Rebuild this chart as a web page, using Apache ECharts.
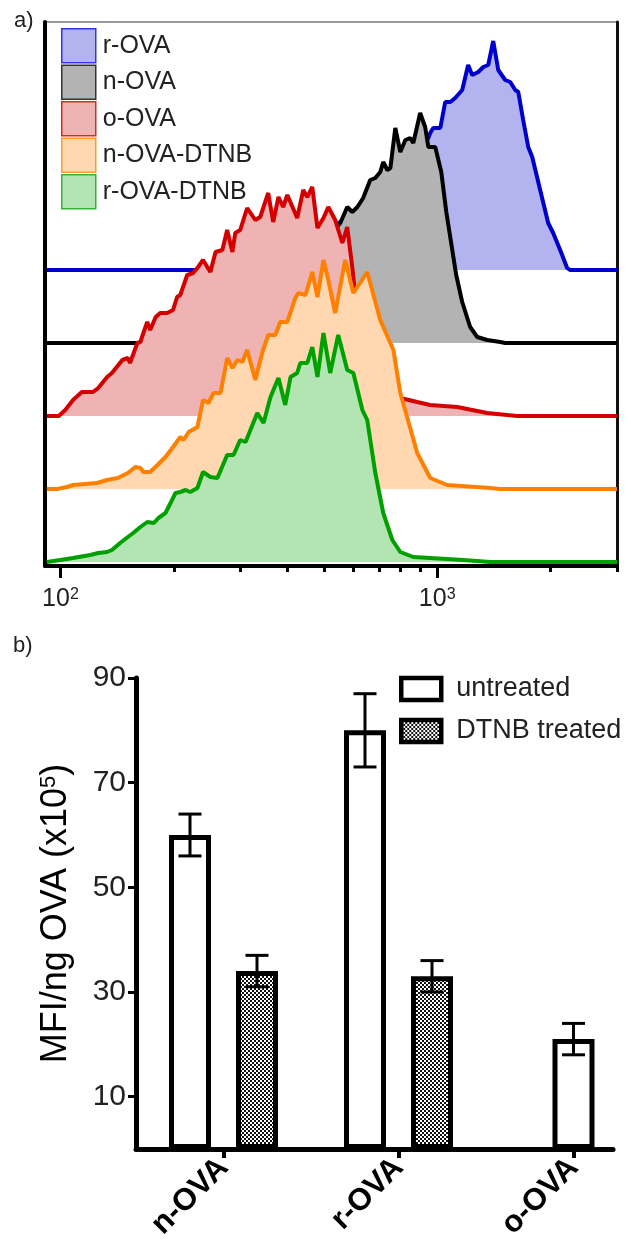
<!DOCTYPE html>
<html>
<head>
<meta charset="utf-8">
<script src="https://cdn.jsdelivr.net/npm/echarts@6/dist/echarts.min.js"></script>
<style>
  html, body { margin: 0; padding: 0; background: #fff; }
  #main { width: 631px; height: 1249px; }
</style>
</head>
<body>
<div id="main"></div>
<script>
// ---- panel a: offset fluorescence histograms (x = intensity, y = events above own baseline)
var histNames = ['r-OVA', 'n-OVA', 'o-OVA', 'n-OVA-DTNB', 'r-OVA-DTNB'];
var histOffsets = [296, 223, 150, 77, 4];

var rOVA = [[92,0],[235,0],[339,8],[433,20],[553,48],[706,80],[848,110],[947,132],[958,137],[976,142],
  [1019,142],[1050,168],[1083,168],[1116,172],[1165,180],[1208,205],[1238,195],[1285,198],[1325,203],
  [1366,205],[1408,229],[1452,200],[1515,190],[1562,188],[1611,180],[1641,178],[1691,150],[1744,123],
  [1787,113],[1876,80],[1970,47],[2031,37],[2120,20],[2212,2],[2250,0],[3000,0]];
var nOVA = [[92,0],[235,0],[300,13],[361,43],[433,81],[520,108],[553,120],[577,136],[595,131],[614,136],
  [636,145],[664,163],[685,165],[706,171],[719,181],[737,173],[751,175],[774,215],[798,191],[823,203],
  [848,205],[864,200],[901,230],[929,216],[947,196],[988,196],[1025,171],[1057,131],[1089,100],
  [1123,68],[1165,41],[1223,16],[1277,6],[1357,3],[1470,1],[1515,0],[3000,0]];
var oOVA = [[92,0],[99,0],[103,6],[108,16],[114,24],[122,24],[126,28],[133,39],[137,43],[146,56],
  [151,58],[153,53],[160,73],[163,74],[166,83],[170,94],[173,86],[179,99],[184,103],[192,103],[199,106],
  [204,119],[208,121],[217,141],[225,143],[232,149],[239,156],[250,144],[258,164],[269,166],[277,186],
  [286,164],[291,183],[300,186],[313,208],[329,196],[339,199],[356,223],[367,194],[379,219],[390,209],
  [400,221],[413,209],[425,198],[441,226],[452,219],[466,229],[481,188],[499,198],[514,209],[536,196],
  [560,173],[577,189],[595,149],[606,121],[625,119],[685,76],[751,38],[798,18],[885,14],[958,11],
  [1130,9],[1357,3],[1630,0],[3000,0]];
var nOVADTNB = [[92,0],[98,0],[104,2],[108,4],[125,6],[133,9],[142,11],[151,16],[158,22],[163,21],
  [166,17],[173,17],[181,24],[190,32],[199,42],[208,52],[212,49],[219,57],[231,62],[239,89],[247,86],
  [255,96],[266,96],[277,131],[286,121],[295,129],[304,127],[313,139],[329,109],[343,136],[356,154],
  [372,154],[383,167],[400,167],[420,191],[428,196],[447,194],[466,217],[481,192],[499,229],[514,209],
  [536,176],[570,229],[599,196],[652,217],[706,169],[765,139],[798,96],[885,36],[958,11],[1063,4],
  [1383,1],[1470,0],[3000,0]];
var rOVADTNB = [[92,0],[100,2],[108,4],[120,7],[126,9],[133,10],[137,12],[144,19],[151,25],[156,29],
  [163,35],[170,40],[177,39],[182,44],[190,49],[196,59],[202,69],[208,70],[215,72],[221,70],[231,74],
  [239,90],[250,85],[261,84],[277,107],[288,107],[300,122],[310,120],[333,149],[346,139],[361,165],
  [379,184],[395,157],[408,185],[425,189],[433,199],[452,199],[466,215],[481,185],[499,229],[520,189],
  [546,227],[577,192],[599,189],[633,152],[652,142],[685,89],[719,49],[760,22],[798,10],[864,5],
  [958,4],[1172,2],[1383,0],[3000,0]];
var histData = [rOVA, nOVA, oOVA, nOVADTNB, rOVADTNB];
var majorTicks = [100, 1000];
var minorTicks = [200, 300, 400, 500, 600, 700, 800, 900, 2000, 3000];

// ---- panel b: MFI per ng OVA
var barCats = ['n-OVA', 'r-OVA', 'o-OVA'];
var untreatedMean = [60, 80];
var untreatedSem = [4, 7];
var dtnbMean = [34, 33];
var dtnbSem = [3, 3];
var oOVAMean = [21];
var oOVASem = [3];
var yTicksB = [10, 30, 50, 70, 90];

var lineColors = ['#0000cc', '#000000', '#d40000', '#ff8000', '#00a000'];
var fillColors = ['#b3b3f0', '#b3b3b3', '#f0b3b3', '#ffd8b1', '#b3e5b3'];
var legendBorders = ['#3535e0', '#333333', '#d42a2a', '#ff9933', '#33b333'];
var FONT = '"Liberation Sans", Arial, sans-serif';
var BAR_W = 42, BAR_GAP = 25;
var shift = (BAR_W + BAR_GAP) / 2;

// checkered fill for DTNB bars
var pat = document.createElement('canvas');
pat.width = 4; pat.height = 4;
var pc = pat.getContext('2d');
pc.fillStyle = '#111'; pc.fillRect(0, 0, 4, 4);
pc.fillStyle = '#fff'; pc.fillRect(0, 0, 2, 2); pc.fillRect(2, 2, 2, 2);
var checker = { image: pat, repeat: 'repeat' };

var chart = echarts.init(document.getElementById('main'), null, { renderer: 'canvas' });

// each histogram gets its own z so its fill hides the lines of the ones behind it
var histSeries = histNames.map(function (name, i) {
  return {
    name: name,
    type: 'line',
    xAxisIndex: 0,
    yAxisIndex: 0,
    symbol: 'none',
    z: 2 + i,
    lineStyle: { color: lineColors[i], width: 4 },
    itemStyle: { color: lineColors[i] },
    areaStyle: { color: fillColors[i], opacity: 1, origin: histOffsets[i] },
    data: histData[i].map(function (p) { return [p[0], p[1] + histOffsets[i]]; })
  };
});

function errSeries(xs, means, sems, dx, xAxisIndex) {
  return {
    type: 'custom',
    xAxisIndex: xAxisIndex,
    yAxisIndex: 2,
    z: 10,
    silent: true,
    data: means.map(function (m, k) { return [xs[k], m - sems[k], m + sems[k]]; }),
    renderItem: function (params, api) {
      var lo = api.coord([api.value(0), api.value(1)]);
      var hi = api.coord([api.value(0), api.value(2)]);
      var cx = lo[0] + dx, hw = 11.5;
      var st = { stroke: '#000', lineWidth: 3 };
      return {
        type: 'group',
        children: [
          { type: 'line', shape: { x1: cx, y1: lo[1], x2: cx, y2: hi[1] }, style: st },
          { type: 'line', shape: { x1: cx - hw, y1: lo[1], x2: cx + hw, y2: lo[1] }, style: st },
          { type: 'line', shape: { x1: cx - hw, y1: hi[1], x2: cx + hw, y2: hi[1] }, style: st }
        ]
      };
    }
  };
}

var option = {
  animation: false,
  backgroundColor: '#fff',
  textStyle: { fontFamily: FONT },
  title: [
    { text: 'a)', left: 9, top: 5, textStyle: { fontSize: 22, fontWeight: 'normal', color: '#222', fontFamily: FONT } },
    { text: 'b)', left: 8, top: 630, textStyle: { fontSize: 22, fontWeight: 'normal', color: '#222', fontFamily: FONT } }
  ],
  legend: [
    {
      orient: 'vertical', left: 61, top: 28, padding: 0,
      itemWidth: 34, itemHeight: 34, itemGap: 1, icon: 'rect',
      textStyle: { fontSize: 25, color: '#222', fontFamily: FONT, padding: [0, 0, 0, 2] },
      data: histNames.map(function (n, i) {
        return { name: n, itemStyle: { color: fillColors[i], borderColor: legendBorders[i], borderWidth: 1.5 } };
      })
    },
    {
      orient: 'vertical', left: 399, top: 675, padding: 0,
      itemWidth: 40, itemHeight: 22, itemGap: 14, icon: 'rect',
      textStyle: { fontSize: 27, color: '#222', fontFamily: FONT, padding: [0, 0, 0, 10], lineHeight: 28 },
      data: [
        { name: 'untreated', itemStyle: { color: '#fff', borderColor: '#000', borderWidth: 4.5 } },
        { name: 'DTNB treated', itemStyle: { color: checker, borderColor: '#000', borderWidth: 4.5 } }
      ]
    }
  ],
  grid: [
    { left: 45, right: 14, top: 22, height: 544, show: true, borderColor: '#777', borderWidth: 1.5 },
    { left: 136, right: 18, top: 678, bottom: 100 }
  ],
  xAxis: [
    {
      type: 'log', gridIndex: 0, min: 91, max: 3000, position: 'bottom',
      axisLine: { show: true, onZero: false, lineStyle: { color: '#000', width: 4 } },
      axisTick: { show: true, length: 12, customValues: majorTicks, lineStyle: { color: '#000', width: 3 } },
      axisLabel: {
        customValues: majorTicks, margin: 21, color: '#222', fontSize: 25,
        formatter: function (v) { return '10{s|' + Math.round(Math.log10(v)) + '}'; },
        rich: { s: { fontSize: 16, verticalAlign: 'top', padding: [0, 0, 6, 0], color: '#222' } }
      },
      splitLine: { show: false }, minorTick: { show: false }
    },
    {
      type: 'log', gridIndex: 0, min: 91, max: 3000, position: 'bottom',
      axisLine: { show: false },
      axisTick: { show: true, length: 6, customValues: minorTicks, lineStyle: { color: '#000', width: 3 } },
      axisLabel: { show: false },
      splitLine: { show: false }
    },
    {
      type: 'value', gridIndex: 1, min: -0.5, max: 2.2257,
      axisLine: { show: true, onZero: false, lineStyle: { color: '#000', width: 5 } },
      axisTick: { show: true, length: 9, customValues: [0, 1, 2], lineStyle: { color: '#000', width: 4 } },
      axisLabel: {
        customValues: [0, 1, 2], rotate: 45, margin: 14, color: '#000',
        fontSize: 31, fontWeight: 'bold', fontFamily: FONT,
        formatter: function (v) { return barCats[Math.round(v)]; }
      },
      splitLine: { show: false }
    },
    {
      type: 'value', gridIndex: 1, min: -0.5, max: 2.2257, show: false
    }
  ],
  yAxis: [
    {
      type: 'value', gridIndex: 0, min: 0, max: 544,
      axisLine: { show: true, onZero: false, lineStyle: { color: '#000', width: 4 } },
      axisTick: { show: false }, axisLabel: { show: false }, splitLine: { show: false }
    },
    {
      type: 'value', gridIndex: 0, min: 0, max: 544, position: 'right',
      axisLine: { show: true, onZero: false, lineStyle: { color: '#111', width: 3 } },
      axisTick: { show: false }, axisLabel: { show: false }, splitLine: { show: false }
    },
    {
      type: 'value', gridIndex: 1, min: 0, max: 90,
      name: 'MFI/ng OVA (x10{s|5})', nameLocation: 'middle', nameRotate: 90, nameGap: 62,
      nameTextStyle: { fontSize: 36, color: '#000', fontFamily: FONT, rich: { s: { fontSize: 22, verticalAlign: 'top', color: '#000' } } },
      axisLine: { show: true, onZero: false, lineStyle: { color: '#000', width: 5 } },
      axisTick: { show: true, length: 8, customValues: yTicksB, lineStyle: { color: '#000', width: 3 } },
      axisLabel: { customValues: yTicksB, fontSize: 30, color: '#222', margin: 10, fontFamily: FONT },
      splitLine: { show: false }
    }
  ],
  series: histSeries.concat([
    {
      name: 'untreated', type: 'bar', xAxisIndex: 2, yAxisIndex: 2,
      barWidth: BAR_W, barGap: (BAR_GAP / BAR_W * 100) + '%',
      itemStyle: { color: '#fff', borderColor: '#000', borderWidth: 5 },
      data: untreatedMean.map(function (v, k) { return [k, v]; })
    },
    {
      name: 'DTNB treated', type: 'bar', xAxisIndex: 2, yAxisIndex: 2,
      barWidth: BAR_W, barGap: (BAR_GAP / BAR_W * 100) + '%',
      itemStyle: { color: checker, borderColor: '#000', borderWidth: 5 },
      data: dtnbMean.map(function (v, k) { return [k, v]; })
    },
    {
      name: 'untreated', type: 'bar', xAxisIndex: 3, yAxisIndex: 2,
      barWidth: BAR_W,
      itemStyle: { color: '#fff', borderColor: '#000', borderWidth: 5 },
      data: oOVAMean.map(function (v) { return [2, v]; })
    },
    errSeries([0, 1], untreatedMean, untreatedSem, -shift, 2),
    errSeries([0, 1], dtnbMean, dtnbSem, shift, 2),
    errSeries([2], oOVAMean, oOVASem, 0, 3)
  ])
};

chart.setOption(option);
</script>
</body>
</html>
